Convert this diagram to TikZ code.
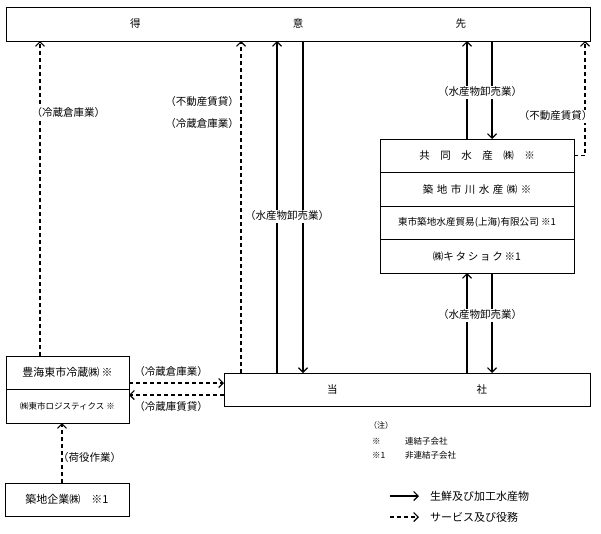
\documentclass[tikz,border=0pt]{standalone}
\usepackage{fontspec}
\setmainfont{Noto Sans CJK JP}
\usetikzlibrary{positioning,arrows.meta}

\begin{document}
\begin{tikzpicture}[x=1pt,y=-1pt,
   every node/.style={inner sep=0pt,font=\fontsize{10.5}{12}\selectfont},
   box/.style={draw,line width=0.7pt,outer sep=0pt,minimum height=33.5pt},
   lbl/.style={fill=white,inner sep=1.5pt},
   flow/.style={line width=1.1pt,-{Straight Barb[length=4.5pt,width=9pt]}},
   serv/.style={flow,dash pattern=on 4pt off 3pt}]
\useasboundingbox (0,0) rectangle (601,533);
\node[box,minimum width=584pt,minimum height=34pt] (toku) at (298,24) {\makebox[336pt]{得\hfill 意\hfill 先}};
\node[box,minimum width=366pt,minimum height=33pt] (tosha) at (407,389.5) {\makebox[160pt]{当\hfill 社}};
\node[box,minimum width=194pt] (kyodo) at (477,155.75) {共　同　水　産　㈱　※};
\node[box,minimum width=194pt,below=0pt of kyodo] (ichikawa) {築\,\,地\,\,市\,\,川\,\,水\,\,産\,\,㈱\,\,※};
\node[box,minimum width=194pt,below=0pt of ichikawa,font=\fontsize{9.6}{11}\selectfont] (shanghai) {東市築地水産貿易(上海)有限公司 ※1};
\node[box,minimum width=194pt,below=0pt of shanghai] (kita) {㈱キ\,タ\,シ\,ョ\,ク\,※1};
\node[box,minimum width=123pt,minimum height=33pt,font=\fontsize{11}{12}\selectfont] (hokai) at (67.5,372.5) {豊海東市冷蔵㈱ ※};
\node[box,minimum width=123pt,minimum height=34pt,below=0pt of hokai,font=\fontsize{8.5}{10}\selectfont] (logi) {㈱東市ロジスティクス ※};
\node[box,minimum width=124pt,minimum height=33pt,font=\fontsize{11}{12}\selectfont] (tsukiji) at (67,499.5) {築地企業㈱　※1};

\draw[serv] ([xshift=-27.5pt]hokai.north) coordinate (c1) -- (c1 |- toku.south);
\draw[serv] ([xshift=-166pt]tosha.north) coordinate (c2) -- (c2 |- toku.south);
\draw[flow] ([xshift=-130pt]tosha.north) coordinate (c3) -- (c3 |- toku.south);
\draw[flow] ([xshift=-104pt]toku.south -| tosha.north) coordinate (c4) -- (c4 |- tosha.north);
\draw[flow] ([xshift=-10pt]kyodo.north) coordinate (c5) -- (c5 |- toku.south);
\draw[flow] ([xshift=15pt]toku.south -| kyodo.north) coordinate (c6) -- (c6 |- kyodo.north);
\draw[serv] (kyodo.east) -| ([xshift=287pt]toku.south);
\draw[flow] ([xshift=-10pt]tosha.north -| kita.south) coordinate (c7) -- (c7 |- kita.south);
\draw[flow] ([xshift=15pt]kita.south) coordinate (c8) -- (c8 |- tosha.north);
\draw[serv] ([yshift=-10.5pt]hokai.east) coordinate (c9) -- (c9 -| tosha.west);
\draw[serv] ([yshift=-5.5pt]tosha.west) coordinate (c10) -- (c10 -| logi.east);
\draw[serv] ([xshift=-5pt]tsukiji.north) coordinate (c11) -- (c11 |- logi.south);

\node[lbl,anchor=west] (lrei1) at (30,113) {（冷蔵倉庫業）};
\node[anchor=east] (lfudo1) at (239,102) {（不動産賃貸）};
\node[anchor=east] (lrei2) at (239,124) {（冷蔵倉庫業）};
\node[lbl] (lsui1) at (287,216) {（水産物卸売業）};
\node[lbl] (lsui2) at (480,92) {（水産物卸売業）};
\node[lbl] (lsui3) at (480,315) {（水産物卸売業）};
\node[lbl,anchor=east] (lfudo2) at (594,116) {（不動産賃貸）};
\node (lrei3) at (171,372) {（冷蔵倉庫業）};
\node (lrei4) at (171,407) {（冷蔵庫賃貸）};
\node[anchor=west] (lniyaku) at (58,457) {（荷役作業）};

\node[anchor=west,font=\fontsize{8}{10}\selectfont] (chu) at (369,425) {（注）};
\node[anchor=west,font=\fontsize{8.5}{10}\selectfont] (kome) at (372,441) {※};
\node[anchor=west,font=\fontsize{8.5}{10}\selectfont] (kometxt) at (405,441) {連結子会社};
\node[anchor=west,font=\fontsize{8.5}{10}\selectfont] (kome1) at (372,455) {※1};
\node[anchor=west,font=\fontsize{8.5}{10}\selectfont] (kome1txt) at (405,455) {非連結子会社};

\node[anchor=west,font=\fontsize{11}{12}\selectfont] (leg1) at (430,496) {生鮮及び加工水産物};
\node[anchor=west,font=\fontsize{11}{12}\selectfont] (leg2) at (430,517) {サービス及び役務};
\coordinate (lg1) at (390,496);
\coordinate (lg2) at (390,517);
\draw[flow] (lg1) -- ([xshift=-11pt]leg1.west);
\draw[serv] (lg2) -- ([xshift=-11pt]leg2.west);
\end{tikzpicture}
\end{document}
